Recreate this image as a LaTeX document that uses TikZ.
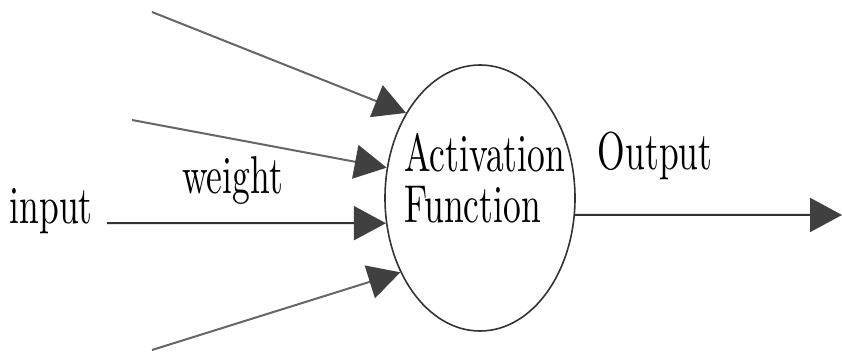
\documentclass[tikz,border=0pt]{standalone}
\usepackage{fontspec}
\usepackage{graphicx}
\usetikzlibrary{shapes.geometric, arrows.meta, positioning}
\setmainfont{lmroman10-regular.otf}
\newcommand{\tall}[1]{\scalebox{1}[1.5]{#1}}

\begin{document}
\begin{tikzpicture}[
      x=1pt, y=-1pt,
      lbl/.style={inner sep=0pt, font=\fontsize{35.5}{33.3}\selectfont},
      neuron/.style={ellipse, draw=black!80, line width=1.6pt, inner sep=0pt, minimum width=190pt, minimum height=266pt},
      arrow/.style={-{Triangle[length=32pt, width=34pt, color=black!75]}, line width=2pt, draw=black!80},
      faint/.style={arrow, draw=black!60}
    ]
    \useasboundingbox (0,0) rectangle (842,355);

    \node[neuron] (act) at (480,198) {};
    \node[lbl, anchor=north west] (actlbl) at (404,133)
      {\tall{\begin{tabular}{@{}l@{}}Activation\\Function\end{tabular}}};

    % inputs
    \coordinate (in1) at (152,12);
    \coordinate (in2) at (132,120);
    \coordinate (in3) at (107,223);
    \coordinate (in4) at (152,350);
    \coordinate (out) at (842,215);

    \node[lbl, anchor=base east] (input) at ([xshift=-14pt]in3) {\tall{input}};

    \draw[faint] (in1) -- (act.131);
    \draw[faint] (in2) -- (act.162);
    \draw[arrow] (in3) -- node[lbl, pos=.45, above=18pt] (weight) {\tall{weight}} (act.195);
    \draw[faint] (in4) -- (act.223.7);

    % output
    \draw[arrow] (act.-10.2) -- node[lbl, pos=.3, above=34pt] (output) {\tall{Output}} (out);
  \end{tikzpicture}
\end{document}
